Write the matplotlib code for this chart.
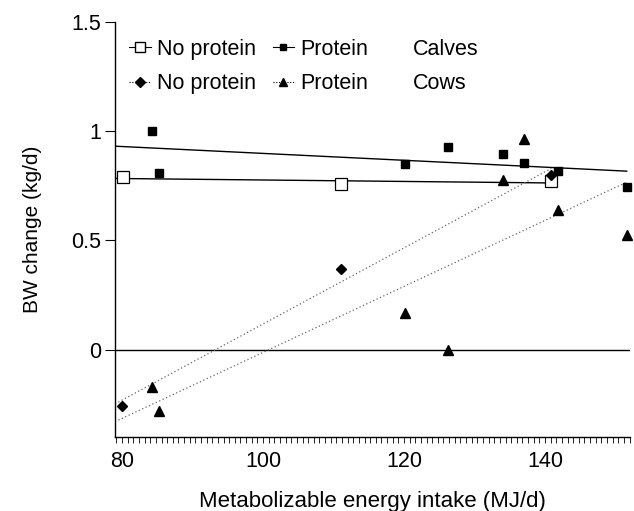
import numpy as np
import matplotlib
matplotlib.use('Agg')
import matplotlib.pyplot as plt
from matplotlib.lines import Line2D
from matplotlib.ticker import MultipleLocator, FixedLocator

plt.rcParams['font.family'] = ['Liberation Sans', 'DejaVu Sans']

# calves, no protein (open squares)
calves_np_x = [80.1, 111.1, 140.9]
calves_np_y = [0.79, 0.76, 0.77]
# calves, protein (filled squares)
calves_p_x = [84.2, 85.2, 120.1, 126.2, 134.1, 137.0, 141.9, 151.6]
calves_p_y = [1.00, 0.81, 0.85, 0.93, 0.895, 0.855, 0.82, 0.745]
# cows, no protein (diamonds)
cows_np_x = [80.0, 111.1, 140.9]
cows_np_y = [-0.26, 0.37, 0.80]
# cows, protein (triangles)
cows_p_x = [84.2, 85.3, 120.1, 126.2, 134.1, 137.0, 141.9, 151.6]
cows_p_y = [-0.17, -0.28, 0.17, 0.0, 0.775, 0.965, 0.64, 0.525]

x_ticks = [80, 100, 120, 140]
y_ticks = [0, 0.5, 1, 1.5]
y_ticklabels = ['0', '0.5', '1', '1.5']

fig = plt.figure(figsize=(6.34, 5.11), dpi=100)
ax = fig.add_axes([0.1814, 0.1448, 0.8116, 0.812])
ax.set_xlim(79, 152)
ax.set_ylim(-0.4, 1.5)

# regression lines
def fit_line(x, y, style, color, lw):
    k, b = np.polyfit(x, y, 1)
    xx = np.array([ax.get_xlim()[0], max(x)])
    ax.plot(xx, k * xx + b, linestyle=style, color=color, lw=lw, zorder=2)

fit_line(calves_np_x, calves_np_y, '-', 'black', 1.0)
fit_line(calves_p_x, calves_p_y, '-', 'black', 1.0)
fit_line(cows_np_x, cows_np_y, (0, (1, 2)), '0.4', 0.9)
fit_line(cows_p_x, cows_p_y, (0, (1, 2)), '0.4', 0.9)

ax.axhline(0, color='black', lw=1.0, zorder=1)

ax.plot(calves_np_x, calves_np_y, 's', mfc='white', mec='black', ms=8, mew=0.9, clip_on=False, zorder=3)
ax.plot(calves_p_x, calves_p_y, 's', color='black', ms=5.5, clip_on=False, zorder=3)
ax.plot(cows_np_x, cows_np_y, 'D', color='black', ms=5, clip_on=False, zorder=3)
ax.plot(cows_p_x, cows_p_y, '^', color='black', ms=6.5, clip_on=False, zorder=3)

ax.spines['top'].set_visible(False)
ax.spines['right'].set_visible(False)
ax.spines['left'].set_linewidth(1.0)
ax.spines['bottom'].set_linewidth(1.0)

ax.xaxis.set_major_locator(FixedLocator(x_ticks))
ax.xaxis.set_minor_locator(MultipleLocator(0.8))
ax.set_yticks(y_ticks)
ax.set_yticklabels(y_ticklabels)
ax.tick_params(axis='x', which='both', direction='out', length=4, width=0.6, labelsize=15.5, pad=6)
ax.tick_params(axis='y', direction='out', length=7, width=0.8, labelsize=15.5, pad=3)

ax.set_xlabel('Metabolizable energy intake (MJ/d)', fontsize=16, labelpad=14)
ax.set_ylabel('BW change (kg/d)', fontsize=15, labelpad=21)

handles = [
    Line2D([], [], ls='-', color='black', lw=0.8, marker='s', mfc='white', mec='black', ms=7),
    Line2D([], [], ls=(0, (1, 1.5)), color='black', lw=0.8, marker='D', ms=5),
    Line2D([], [], ls='-', color='black', lw=0.8, marker='s', ms=5),
    Line2D([], [], ls=(0, (1, 1.5)), color='black', lw=0.8, marker='^', ms=6),
    Line2D([], [], ls='none'),
    Line2D([], [], ls='none'),
]
labels = ['No protein', 'No protein', 'Protein', 'Protein', 'Calves', 'Cows']
ax.legend(handles, labels, ncol=3, loc='upper left', bbox_to_anchor=(0.028, 0.96),
          frameon=False, fontsize=15.5, borderpad=0, borderaxespad=0,
          handlelength=1.0, handletextpad=0.3, columnspacing=0.75, labelspacing=0.64)

fig.savefig('out.png', dpi=100)
